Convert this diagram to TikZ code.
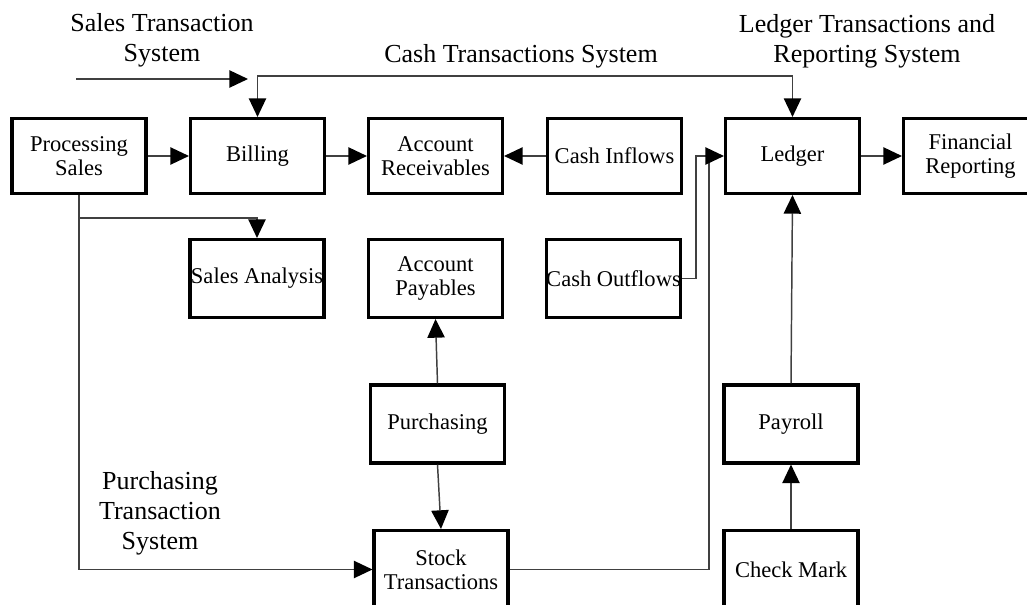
\documentclass[tikz,border=0pt]{standalone}
\usepackage{fontspec}
\setmainfont{Liberation Serif}
\usetikzlibrary{arrows.meta}

\tikzset{
  box/.style={draw, line width=2.3pt, minimum width=100.5pt, minimum height=56.25pt,
    inner sep=0pt, align=center, font=\fontsize{16.9}{18}\selectfont},
  boxb/.style={box, minimum height=58.5pt},
  lbl/.style={align=center, inner sep=0pt, font=\fontsize{19.5}{22.5}\selectfont},
  conn/.style={line width=1.1pt, draw=black!75},
  tip/.style={Triangle[length=14pt, width=13pt, color=black]},
  arr/.style={conn, -{Triangle[length=14pt, width=13pt, color=black]}},
  dbl/.style={conn, {Triangle[length=14pt, width=13pt, color=black]}-{Triangle[length=14pt, width=13pt, color=black]}}
}

\begin{document}
\begin{tikzpicture}[x=0.75pt, y=-0.75pt]
\useasboundingbox (0,0) rectangle (1027,605);
\clip (0,0) rectangle (1027,605);

% top row
\node[box] (ps)   at (79,156)    {Processing\\Sales};
\node[box] (bill) at (257.5,156) {Billing};
\node[box] (ar)   at (435.5,156) {Account\\Receivables};
\node[box] (ci)   at (614.5,156) {Cash Inflows};
\node[box] (led)  at (792.5,156) {Ledger};
\node[box] (fr)   at (970.5,156) {Financial\\Reporting};

% second row
\node[boxb] (sa) at (257,278.5)   {Sales Analysis};
\node[boxb] (ap) at (435.5,278.5) {Account\\Payables};
\node[boxb] (co) at (613.5,278.5) {Cash Outflows};

% lower rows
\node[boxb] (pur) at (437.5,424) {Purchasing};
\node[boxb] (pay) at (791,424)   {Payroll};
\node[boxb] (st)  at (441,569.5) {Stock\\Transactions};
\node[boxb] (cm)  at (791,569.5) {Check Mark};

% system captions
\node[lbl] (cap1) at (162,40)  {Sales Transaction\\System};
\node[lbl] (cap2) at (521,56)  {Cash Transactions System};
\node[lbl] (cap3) at (867,41)  {Ledger Transactions and\\Reporting System};
\node[lbl] (cap4) at (160,513) {Purchasing\\Transaction\\System};

% helper points
\coordinate (s0) at (76,79);
\coordinate (s1) at (248,79);
\coordinate (topy) at (0,76);
\coordinate (bry) at (0,218);
\coordinate (jx1) at (696,0);
\coordinate (jx2) at (709,0);

% connectors
\draw[arr] (s0) -- (s1);
\draw[dbl] (bill.north) -- (bill.north |- topy) -| (led.north);
\draw[arr] (ps) -- (bill);
\draw[arr] (bill) -- (ar);
\draw[arr] (ci) -- (ar);
\draw[arr] (led) -- (fr);
\draw[arr] (ps.south) |- (st.west);
\draw[arr] (ps.south |- bry) -| (sa.north);
\draw[arr] (pur.north) -- (ap.south);
\draw[arr] (pur.south) -- (st.north);
\draw[arr] (cm.north) -- (pay.south);
\draw[arr] (pay.north) -- (led.south);
\draw[conn] (st.east) -| (jx2 |- led.west);
\draw[arr] (co.east) -| (jx1 |- led.west) -- (led.west);
\end{tikzpicture}
\end{document}
